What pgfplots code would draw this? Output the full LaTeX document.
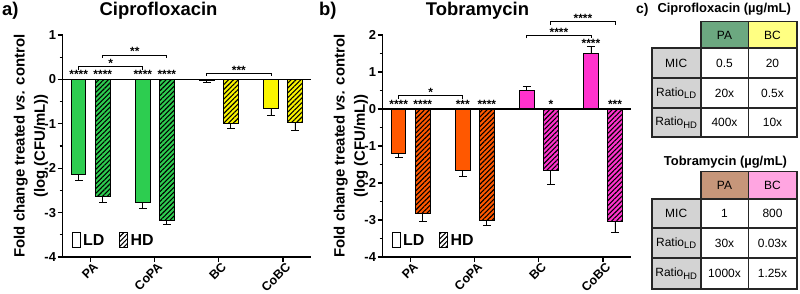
\documentclass[border=0pt]{standalone}
\usepackage{fontspec}
\setmainfont{Liberation Sans}
\usepackage{pgfplots}
\pgfplotsset{compat=1.18}
\usepackage{pgfplotstable}
\usetikzlibrary{patterns.meta}

\definecolor{cgreen}{RGB}{45,205,80}
\definecolor{cyellow}{RGB}{250,245,0}
\definecolor{corange}{RGB}{255,88,0}
\definecolor{cmagenta}{RGB}{255,50,205}
\definecolor{tPAc}{RGB}{108,168,128}
\definecolor{tBCc}{RGB}{255,255,130}
\definecolor{tPAt}{RGB}{198,150,122}
\definecolor{tBCt}{RGB}{255,165,225}
\definecolor{tgray}{RGB}{211,211,211}

% Panel a (Ciprofloxacin)
\pgfplotstableread{
x y e
0 -2.14 0.13
2.667 -2.78 0.12
}\aPAld
\pgfplotstableread{
x y e
1 -2.63 0.14
3.667 -3.17 0.09
}\aPAhd
\pgfplotstableread{
x y e
5.333 -0.03 0.05
8 -0.66 0.16
}\aBCld
\pgfplotstableread{
x y e
6.333 -1.00 0.10
9 -0.97 0.18
}\aBChd
% Panel b (Tobramycin)
\pgfplotstableread{
x y e
0 -1.21 0.11
2.667 -1.66 0.16
}\bPAld
\pgfplotstableread{
x y e
1 -2.83 0.20
3.667 -3.00 0.15
}\bPAhd
\pgfplotstableread{
x y e
5.333 0.51 0.11
8 1.51 0.18
}\bBCld
\pgfplotstableread{
x y e
6.333 -1.66 0.39
9 -3.03 0.32
}\bBChd

\newcommand\tickfont{\bfseries\fontsize{13}{13}\selectfont}
\newcommand\xtickfont{\bfseries\fontsize{12.5}{12.5}\selectfont}
\newcommand\labfont{\bfseries\fontsize{15}{20.5}\selectfont}
\newcommand\titlefont{\bfseries\fontsize{18.5}{18.5}\selectfont}
\newcommand\starfont{\bfseries\fontsize{12}{12}\selectfont}
\newcommand\legfont{\bfseries\fontsize{16}{16}\selectfont}
\newcommand\tabfont{\fontsize{12}{12}\selectfont}
\newcommand\sub[1]{\raisebox{-2.5bp}{\fontsize{9.5}{9.5}\selectfont #1}}

\pgfplotsset{
  panel/.style={
    scale only axis, width=248.3bp, height=222bp, anchor=south west,
    xmin=-0.667, xmax=9.667,
    axis x line*=bottom, axis y line*=left,
    axis line style={line width=1.2bp, black},
    tick align=outside,
    every tick/.style={line width=1.2bp, black},
    major tick length=5bp, minor tick length=3bp,
    minor y tick num=1,
    xtick={0.5,3.1667,5.8333,8.5},
    xticklabels={},
    yticklabel style={font=\tickfont, inner sep=1.5bp},
    ylabel={Fold change treated \textit{vs.} control\\(log (CFU/mL))},
    ylabel style={at={(axis description cs:-0.128,0.5)}, anchor=center, align=center, font=\labfont},
    clip=false,
    legend style={at={(axis description cs:0.035,0.035)}, anchor=south west, draw=none, fill=none,
      font=\legfont, inner sep=0pt, nodes={inner sep=2.5bp},
      /tikz/every even column/.append style={column sep=12bp}},
    legend columns=2,
  },
  hatch/.style={postaction={pattern={Lines[angle=45,distance=3.4bp,line width=1.1bp]}, pattern color=black}},
  bars/.style={ybar, bar width=0.6, bar shift=0pt, draw=black, line width=0.9bp, forget plot,
    error bars/y dir=#1, error bars/y explicit,
    error bars/error bar style={black, line width=0.9bp, solid},
    error bars/error mark options={black, line width=0.9bp, mark size=4bp, rotate=90}},
}

\newcommand\sigbr[5]{% x1 x2 mid y text
  \draw[line width=0.9bp] ([yshift=-3bp]axis cs:#1,#4) -- (axis cs:#1,#4) -- (axis cs:#2,#4) -- ([yshift=-3bp]axis cs:#2,#4);
  \node[font=\starfont, anchor=base, inner sep=0pt, yshift=-1bp] at (axis cs:#3,#4) {#5};}
\newcommand\sigstar[3]{\node[font=\starfont, anchor=base, inner sep=0pt, yshift=1bp] at (axis cs:#1,#2) {#3};}
\newcommand\xlab[2]{\node[rotate=45, anchor=north east, font=\xtickfont, inner sep=0pt] at ([xshift=2bp,yshift=-4.5bp]axis cs:#1,-4) {#2};}
\newcommand\xlabs{\xlab{0.5}{PA}\xlab{3.1667}{CoPA}\xlab{5.8333}{BC}\xlab{8.5}{CoBC}}

\newcommand\legimgs{%
  \addlegendimage{legend image code/.code={\draw[line width=1.1bp, fill=white] (0bp,-7.5bp) rectangle (8bp,7.5bp);}}
  \addlegendentry{LD}
  \addlegendimage{legend image code/.code={\draw[line width=1.1bp, fill=white, postaction={pattern={Lines[angle=45,distance=3.4bp,line width=1.1bp]}, pattern color=black}] (0bp,-7.5bp) rectangle (8bp,7.5bp);}}
  \addlegendentry{HD}}

\begin{document}
\begin{tikzpicture}
\useasboundingbox (0,0) rectangle (800bp,294bp);

% ---------- panel a ----------
\begin{axis}[panel, at={(62.7bp,37bp)}, ymin=-4, ymax=1,
  ytick={-4,-3,-2,-1,0,1}, yticklabels={-4,-3,-2,-1,0,1}]
\addplot[fill=cgreen, bars=minus] table[x=x,y=y,y error=e]{\aPAld};
\addplot[fill=cgreen, hatch, bars=minus] table[x=x,y=y,y error=e]{\aPAhd};
\addplot[fill=cyellow, bars=minus] table[x=x,y=y,y error=e]{\aBCld};
\addplot[fill=cyellow, hatch, bars=minus] table[x=x,y=y,y error=e]{\aBChd};
\draw[line width=1.2bp] (axis cs:-0.667,0) -- (axis cs:9.667,0);
\sigstar{0}{0}{****}\sigstar{1}{0}{****}\sigstar{2.667}{0}{****}\sigstar{3.667}{0}{****}
\sigbr{0}{2.667}{1.333}{0.29}{*}
\sigbr{1}{3.667}{2.333}{0.55}{**}
\sigbr{5.333}{8}{6.667}{0.14}{***}
\xlabs
\legimgs
\end{axis}

% ---------- panel b ----------
\begin{axis}[panel, at={(382.7bp,37bp)}, ymin=-4, ymax=2,
  ytick={-4,-3,-2,-1,0,1,2}, yticklabels={-4,-3,-2,-1,0,1,2}]
\addplot[fill=corange, bars=minus] table[x=x,y=y,y error=e]{\bPAld};
\addplot[fill=corange, hatch, bars=minus] table[x=x,y=y,y error=e]{\bPAhd};
\addplot[fill=cmagenta, bars=plus] table[x=x,y=y,y error=e]{\bBCld};
\addplot[fill=cmagenta, hatch, bars=minus] table[x=x,y=y,y error=e]{\bBChd};
\draw[line width=1.2bp] (axis cs:-0.667,0) -- (axis cs:9.667,0);
\sigstar{0}{0}{****}\sigstar{1}{0}{****}\sigstar{2.667}{0}{***}\sigstar{3.667}{0}{****}
\sigstar{6.333}{0}{*}\sigstar{9}{0}{***}\sigstar{8}{1.645}{****}
\sigbr{0}{2.667}{1.333}{0.36}{*}
\sigbr{5.333}{8}{6.667}{1.99}{****}
\sigbr{6.333}{9}{7.667}{2.36}{****}
\xlabs
\legimgs
\end{axis}

% ---------- titles ----------
\node[font=\titlefont, anchor=base west, inner sep=0pt] at (2bp,278bp) {a)};
\node[font=\titlefont, anchor=base, inner sep=0pt] at (158.5bp,278bp) {Ciprofloxacin};
\node[font=\titlefont, anchor=base west, inner sep=0pt] at (319bp,278bp) {b)};
\node[font=\titlefont, anchor=base, inner sep=0pt] at (477.5bp,278bp) {Tobramycin};

% ---------- panel c: tables ----------
\begin{scope}[x=1bp,y=1bp]
\newcommand\cell[6]{%
  \draw[line width=1.6bp, draw=black!85, fill=#5] (#1,#2) rectangle (#3,#4);
  \node[font=\tabfont, inner sep=0pt] at ({(#1+#3)/2},{(#2+#4)/2}) {#6};}
\node[font=\bfseries\fontsize{14}{14}\selectfont, anchor=base west, inner sep=0pt] at (636,280.5) {c)};
\node[font=\bfseries\fontsize{13}{13}\selectfont, anchor=base, inner sep=0pt] at (724.2,281.5) {Ciprofloxacin (µg/mL)};
\cell{700.7}{245.7}{748.3}{272.3}{tPAc}{PA}
\cell{748.3}{245.7}{796.7}{272.3}{tBCc}{BC}
\cell{651.7}{215.7}{700.7}{245.7}{tgray}{MIC}
\cell{700.7}{215.7}{748.3}{245.7}{white}{0.5}
\cell{748.3}{215.7}{796.7}{245.7}{white}{20}
\cell{651.7}{185.7}{700.7}{215.7}{tgray}{Ratio\sub{LD}}
\cell{700.7}{185.7}{748.3}{215.7}{white}{20x}
\cell{748.3}{185.7}{796.7}{215.7}{white}{0.5x}
\cell{651.7}{156.7}{700.7}{185.7}{tgray}{Ratio\sub{HD}}
\cell{700.7}{156.7}{748.3}{185.7}{white}{400x}
\cell{748.3}{156.7}{796.7}{185.7}{white}{10x}

\node[font=\bfseries\fontsize{13}{13}\selectfont, anchor=base, inner sep=0pt] at (725.5,129) {Tobramycin (µg/mL)};
\cell{700.7}{95}{748.3}{122.3}{tPAt}{PA}
\cell{748.3}{95}{796.7}{122.3}{tBCt}{BC}
\cell{651.7}{66}{700.7}{95}{tgray}{MIC}
\cell{700.7}{66}{748.3}{95}{white}{1}
\cell{748.3}{66}{796.7}{95}{white}{800}
\cell{651.7}{36}{700.7}{66}{tgray}{Ratio\sub{LD}}
\cell{700.7}{36}{748.3}{66}{white}{30x}
\cell{748.3}{36}{796.7}{66}{white}{0.03x}
\cell{651.7}{5}{700.7}{36}{tgray}{Ratio\sub{HD}}
\cell{700.7}{5}{748.3}{36}{white}{1000x}
\cell{748.3}{5}{796.7}{36}{white}{1.25x}
\end{scope}
\end{tikzpicture}
\end{document}
